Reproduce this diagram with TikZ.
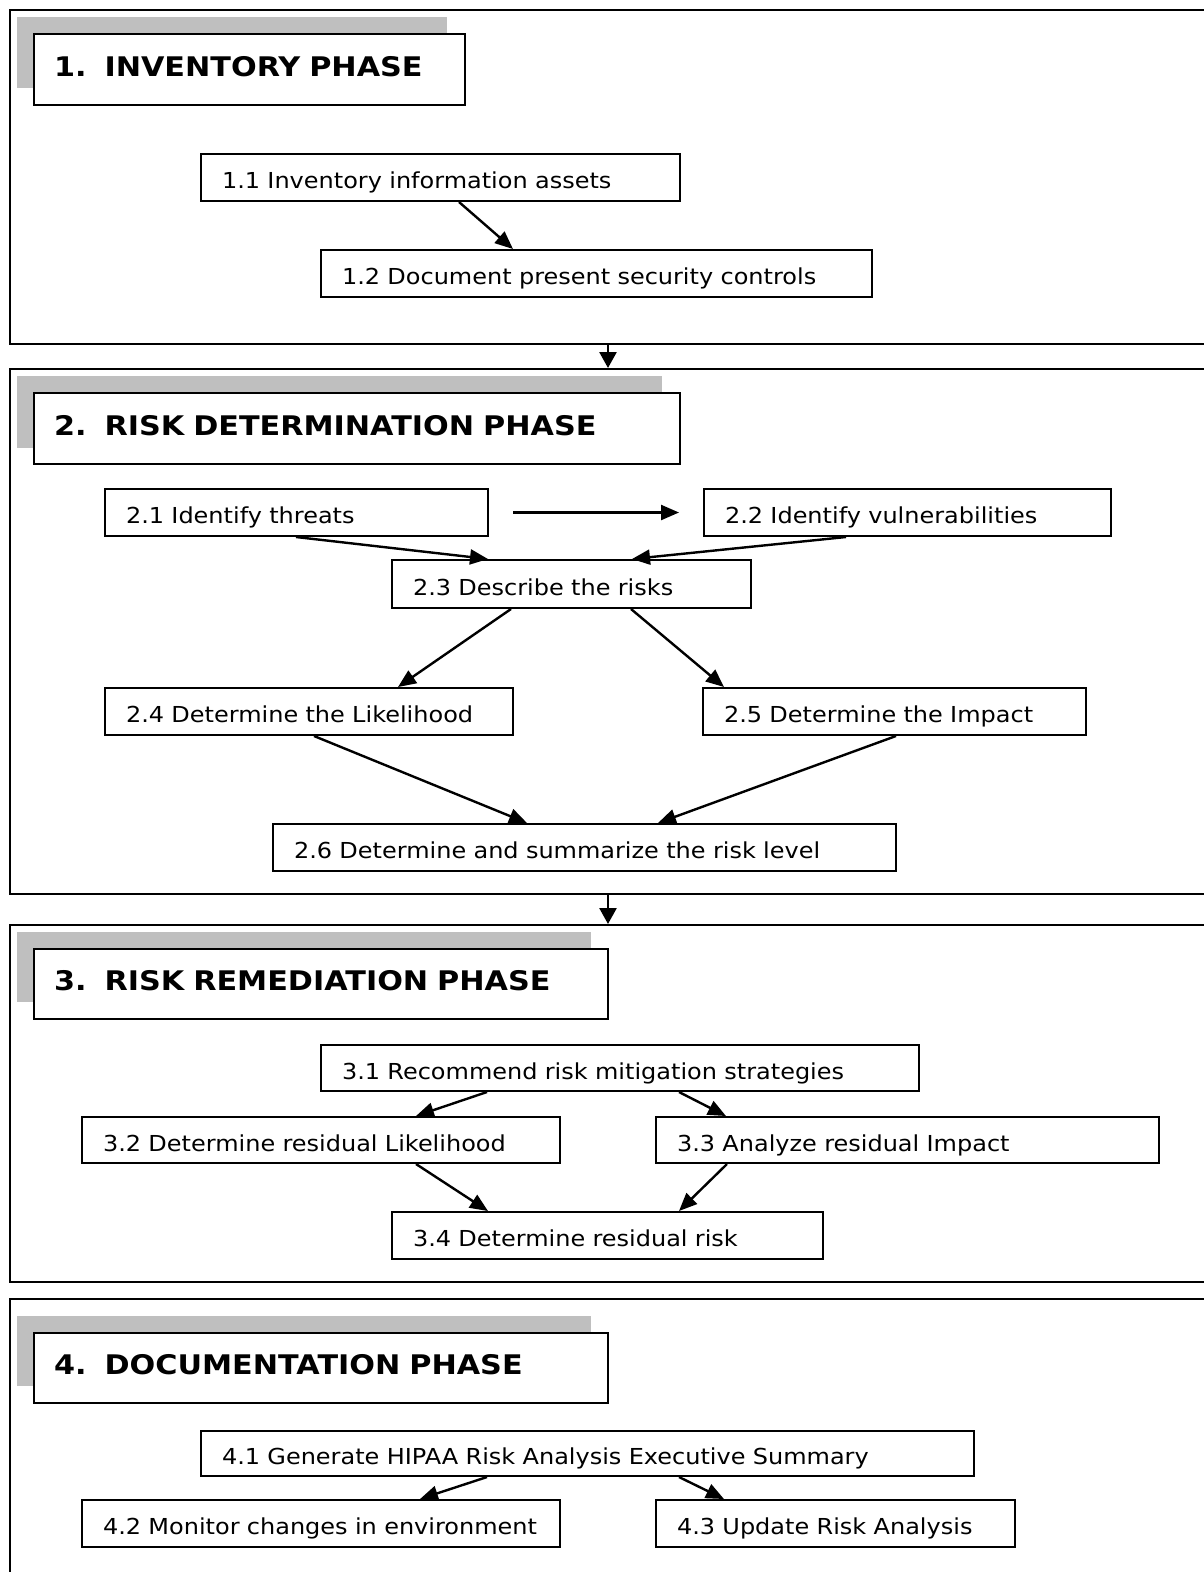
\documentclass[tikz,border=0pt]{standalone}
\usepackage{fontspec}
\setmainfont{DejaVu Sans}
\newfontfamily\headfont[FakeStretch=1.12]{DejaVu Sans}
\newfontfamily\stepfont[FakeStretch=1.09]{DejaVu Sans}
\usetikzlibrary{positioning,arrows.meta}
\tikzset{
  phaseframe/.style={rectangle, draw=black, line width=2pt, minimum width=1215pt, anchor=north west, inner sep=0pt},
  headshadow/.style={rectangle, fill=black!25, anchor=north west, inner sep=0pt},
  headbox/.style={rectangle, draw=black, line width=2pt, fill=white, minimum height=71pt, inner xsep=20pt, inner ysep=0pt,
    text height=20pt, text depth=7pt, align=left, anchor=north west, font=\headfont\fontsize{27}{31}\selectfont\bfseries},
  stepbox/.style={rectangle, draw=black, line width=2pt, minimum height=47pt, inner xsep=21pt, inner ysep=0pt,
    text height=22pt, text depth=0pt, align=left, anchor=north west, font=\stepfont\fontsize{22}{26}\selectfont},
  flow/.style={draw, line width=2.4pt, -{Triangle[length=18pt,width=15pt]}},
  phasearrow/.style={draw, line width=2.6pt, -{Triangle[length=16pt,width=17pt]}},
}
\begin{document}
\begin{tikzpicture}[x=1pt,y=-1pt]
    \path[use as bounding box, clip] (0,0) rectangle (1204,1572);

    % phase frames
    \node[phaseframe, minimum height=334pt] (frame1) at (9,9) {};
    \node[phaseframe, minimum height=525pt, below=23pt of frame1.south west, anchor=north west] (frame2) {};
    \node[phaseframe, minimum height=357pt, below=29pt of frame2.south west, anchor=north west] (frame3) {};
    \node[phaseframe, minimum height=320pt, below=15pt of frame3.south west, anchor=north west] (frame4) {};

    % 1. inventory
    \node[headshadow, minimum width=430pt, minimum height=71pt, below right=8pt and 8pt of frame1.north west] (sh1) {};
    \node[headbox, text width=391pt, below right=24pt and 24pt of frame1.north west] (hd1) {1.\hspace{18pt}INVENTORY PHASE};
    \node[stepbox, text width=437pt, below right=144pt and 191pt of frame1.north west] (s11) {1.1 Inventory information assets};
    \node[stepbox, text width=509pt, below right=240pt and 311pt of frame1.north west] (s12) {1.2 Document present security controls};

    % 2. risk determination
    \node[headshadow, minimum width=645pt, minimum height=72pt, below right=8pt and 8pt of frame2.north west] (sh2) {};
    \node[headbox, text width=606pt, below right=24pt and 24pt of frame2.north west] (hd2) {2.\hspace{18pt}RISK DETERMINATION PHASE};
    \node[stepbox, text width=341pt, below right=120pt and 95pt of frame2.north west] (s21) {2.1 Identify threats};
    \node[stepbox, text width=365pt, below right=120pt and 694pt of frame2.north west] (s22) {2.2 Identify vulnerabilities};
    \node[stepbox, text width=317pt, minimum height=48pt, below right=191pt and 382pt of frame2.north west] (s23) {2.3 Describe the risks};
    \node[stepbox, text width=366pt, below right=319pt and 95pt of frame2.north west] (s24) {2.4 Determine the Likelihood};
    \node[stepbox, text width=341pt, below right=319pt and 693pt of frame2.north west] (s25) {2.5 Determine the Impact};
    \node[stepbox, text width=581pt, below right=455pt and 263pt of frame2.north west] (s26) {2.6 Determine and summarize the risk level};

    % 3. risk remediation
    \node[headshadow, minimum width=574pt, minimum height=70pt, below right=8pt and 8pt of frame3.north west] (sh3) {};
    \node[headbox, text width=534pt, minimum height=70pt, below right=24pt and 24pt of frame3.north west] (hd3) {3.\hspace{18pt}RISK REMEDIATION PHASE};
    \node[stepbox, text width=556pt, minimum height=46pt, below right=120pt and 311pt of frame3.north west] (s31) {3.1 Recommend risk mitigation strategies};
    \node[stepbox, text width=436pt, minimum height=46pt, below right=192pt and 72pt of frame3.north west] (s32) {3.2 Determine residual Likelihood};
    \node[stepbox, text width=461pt, minimum height=46pt, below right=192pt and 646pt of frame3.north west] (s33) {3.3 Analyze residual Impact};
    \node[stepbox, text width=389pt, below right=287pt and 382pt of frame3.north west] (s34) {3.4 Determine residual risk};

    % 4. documentation
    \node[headshadow, minimum width=574pt, minimum height=70pt, below right=18pt and 8pt of frame4.north west] (sh4) {};
    \node[headbox, text width=534pt, minimum height=70pt, below right=34pt and 24pt of frame4.north west] (hd4) {4.\hspace{18pt}DOCUMENTATION PHASE};
    \node[stepbox, text width=731pt, minimum height=45pt, below right=132pt and 191pt of frame4.north west] (s41) {4.1 Generate HIPAA Risk Analysis Executive Summary};
    \node[stepbox, text width=436pt, below right=201pt and 72pt of frame4.north west] (s42) {\mbox{4.2 Monitor changes in environment}};
    \node[stepbox, text width=317pt, below right=201pt and 646pt of frame4.north west] (s43) {4.3 Update Risk Analysis};

    % between phases
    \path[phasearrow] ([xshift=599pt]frame1.south west) -- ([xshift=599pt]frame2.north west);
    \path[phasearrow] ([xshift=599pt]frame2.south west) -- ([xshift=599pt]frame3.north west);

    \path[flow] ([xshift=259pt]s11.south west) -- ([xshift=193pt]s12.north west);

    \path[flow, shorten <=24pt, shorten >=24pt] (s21) -- (s22);
    \path[flow] ([xshift=192pt]s21.south west) -- ([xshift=97pt]s23.north west);
    \path[flow] ([xshift=143pt]s22.south west) -- ([xshift=241pt]s23.north west);
    \path[flow] ([xshift=120pt]s23.south west) -- ([xshift=294pt]s24.north west);
    \path[flow] ([xshift=240pt]s23.south west) -- ([xshift=22pt]s25.north west);
    \path[flow] ([xshift=210pt]s24.south west) -- ([xshift=255pt]s26.north west);
    \path[flow] ([xshift=194pt]s25.south west) -- ([xshift=386pt]s26.north west);

    \path[flow] ([xshift=167pt]s31.south west) -- ([xshift=335pt]s32.north west);
    \path[flow] ([xshift=359pt]s31.south west) -- ([xshift=71pt]s33.north west);
    \path[flow] ([xshift=335pt]s32.south west) -- ([xshift=97pt]s34.north west);
    \path[flow] ([xshift=72pt]s33.south west) -- ([xshift=288pt]s34.north west);

    \path[flow] ([xshift=287pt]s41.south west) -- ([xshift=339pt]s42.north west);
    \path[flow] ([xshift=479pt]s41.south west) -- ([xshift=69pt]s43.north west);
\end{tikzpicture}
\end{document}
